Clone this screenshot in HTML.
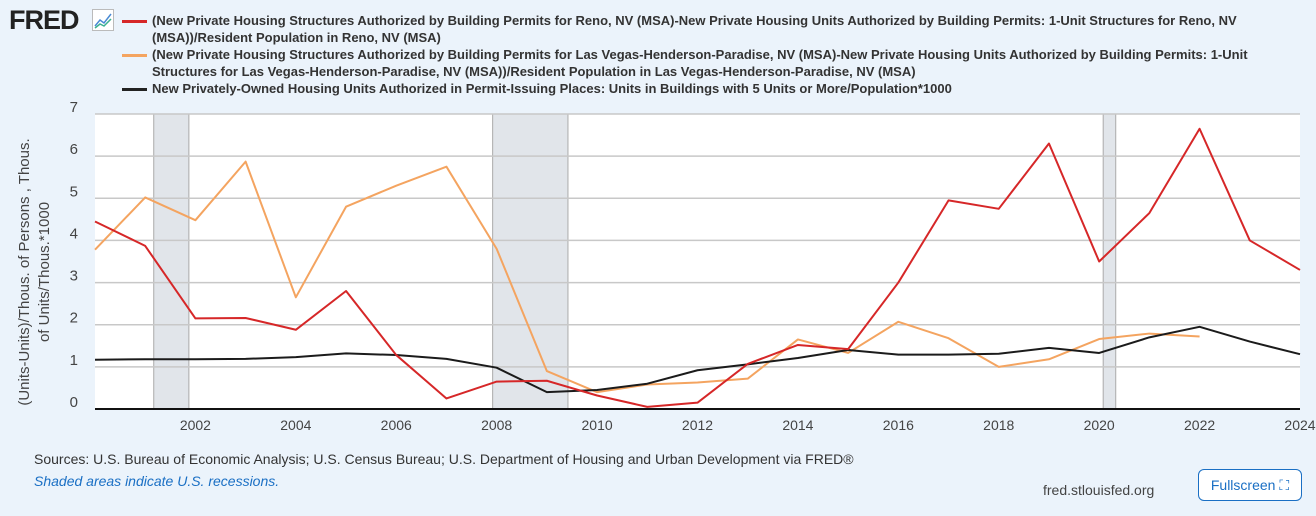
<!DOCTYPE html>
<html><head><meta charset="utf-8"><style>
body{margin:0;width:1316px;height:516px;background:#ebf3fb;font-family:"Liberation Sans",sans-serif;overflow:hidden;position:relative}
.t{position:absolute;color:#333}
</style></head><body>
<div class="t" style="left:9px;top:5px;font-size:27px;font-weight:bold;color:#222;letter-spacing:-1px">FRED</div>
<svg style="position:absolute;left:92px;top:9px" width="22" height="22"><rect x="0.5" y="0.5" width="21" height="21" fill="#fff" stroke="#bbb"/><polyline points="3,17 8,11 12,14 19,5" fill="none" stroke="#4a8ad4" stroke-width="1.5"/><polyline points="3,19 8,15 12,17 19,10" fill="none" stroke="#3bb08f" stroke-width="1.5"/></svg>
<div style="position:absolute;left:122px;top:12px;font-size:13px;font-weight:bold;color:#333;line-height:17px;white-space:nowrap">
<div style="position:relative;padding-left:30px"><span style="position:absolute;left:0;top:8px;width:25px;height:3px;background:#d62728"></span>(New Private Housing Structures Authorized by Building Permits for Reno, NV (MSA)-New Private Housing Units Authorized by Building Permits: 1-Unit Structures for Reno, NV<br>(MSA))/Resident Population in Reno, NV (MSA)</div>
<div style="position:relative;padding-left:30px"><span style="position:absolute;left:0;top:8px;width:25px;height:3px;background:#f4a460"></span>(New Private Housing Structures Authorized by Building Permits for Las Vegas-Henderson-Paradise, NV (MSA)-New Private Housing Units Authorized by Building Permits: 1-Unit<br>Structures for Las Vegas-Henderson-Paradise, NV (MSA))/Resident Population in Las Vegas-Henderson-Paradise, NV (MSA)</div>
<div style="position:relative;padding-left:30px"><span style="position:absolute;left:0;top:8px;width:25px;height:3px;background:#222"></span>New Privately-Owned Housing Units Authorized in Permit-Issuing Places: Units in Buildings with 5 Units or More/Population*1000</div>
</div>
<div class="t" style="left:-130px;top:252px;width:330px;transform:rotate(-90deg);text-align:center;font-size:15px;line-height:20px;color:#444">(Units-Units)/Thous. of Persons , Thous.<br>of Units/Thous.*1000</div>
<svg id="chart" style="position:absolute;left:0;top:0" width="1316" height="440"></svg>
<div class="t" style="left:34px;top:451px;font-size:14px">Sources: U.S. Bureau of Economic Analysis; U.S. Census Bureau; U.S. Department of Housing and Urban Development via FRED®</div>
<div class="t" style="left:34px;top:473px;font-size:14px;font-style:italic;color:#1a6fc4">Shaded areas indicate U.S. recessions.</div>
<div class="t" style="left:1043px;top:482px;font-size:14px;color:#444">fred.stlouisfed.org</div>
<div style="position:absolute;left:1198px;top:469px;width:104px;height:32px;box-sizing:border-box;border:1px solid #1a6fc4;border-radius:6px;background:#fff;color:#1a6fc4;font-size:14px;line-height:30px;text-align:center">Fullscreen ⛶</div>
<script>
const years=[2000,2001,2002,2003,2004,2005,2006,2007,2008,2009,2010,2011,2012,2013,2014,2015,2016,2017,2018,2019,2020,2021,2022,2023,2024];
const reno=[4.45,3.87,2.15,2.16,1.88,2.8,1.28,0.25,0.65,0.67,0.32,0.05,0.15,1.07,1.52,1.42,3.0,4.95,4.75,6.3,3.5,4.65,6.65,4.0,3.3];
const lasVegas=[3.78,5.02,4.48,5.87,2.65,4.8,5.3,5.75,3.8,0.9,0.4,0.58,0.63,0.72,1.65,1.33,2.07,1.68,1.0,1.18,1.66,1.79,1.72];
const us5plus=[1.17,1.18,1.18,1.19,1.23,1.32,1.28,1.19,0.98,0.4,0.45,0.6,0.92,1.06,1.21,1.4,1.29,1.29,1.31,1.45,1.33,1.7,1.95,1.6,1.3];
const recessions=[[2001.17,2001.87],[2007.92,2009.42],[2020.08,2020.33]];
const yTicks=[0,1,2,3,4,5,6,7];
const xTicks=[2002,2004,2006,2008,2010,2012,2014,2016,2018,2020,2022,2024];
const L=95,R=1300,T=114,B=409;
const x=v=>L+(v-2000)/24*(R-L);
const y=v=>B-v/7*(B-T);
const s=document.getElementById('chart');const NS='http://www.w3.org/2000/svg';
function mk(t,a){const e=document.createElementNS(NS,t);for(const k in a)e.setAttribute(k,a[k]);s.appendChild(e);return e;}
const bg=mk('rect',{x:L,y:T,width:R-L,height:B-T,fill:'#fff'});


recessions.forEach(r=>{const e=mk('rect',{x:x(r[0]),y:T,width:x(r[1])-x(r[0]),height:B-T,fill:'#e1e5ea',stroke:'#aaa','stroke-width':1});

});
yTicks.forEach(v=>{const g=mk('line',{x1:L,x2:R,y1:y(v),y2:y(v),stroke:'#c8c8c8','stroke-width':1.5});


const t=mk('text',{x:78,y:y(v)-2,'font-size':15,fill:'#444','text-anchor':'end','font-family':'Liberation Sans'});t.textContent=v;

});
xTicks.forEach(v=>{const t=mk('text',{x:x(v),y:430,'font-size':14,fill:'#444','text-anchor':'middle','font-family':'Liberation Sans'});t.textContent=v;

});
const ax=mk('line',{x1:L,x2:R,y1:B,y2:B,stroke:'#111','stroke-width':2});


function line(d,c,n){const p=mk('polyline',{points:d.map((v,i)=>x(years[i])+','+y(v)).join(' '),fill:'none',stroke:c,'stroke-width':2,'stroke-linejoin':'round'});

}
line(lasVegas,'#f4a460','series-las-vegas');
line(us5plus,'#1b1b1b','series-us-5plus');
line(reno,'#d62728','series-reno');
</script>
</body></html>
